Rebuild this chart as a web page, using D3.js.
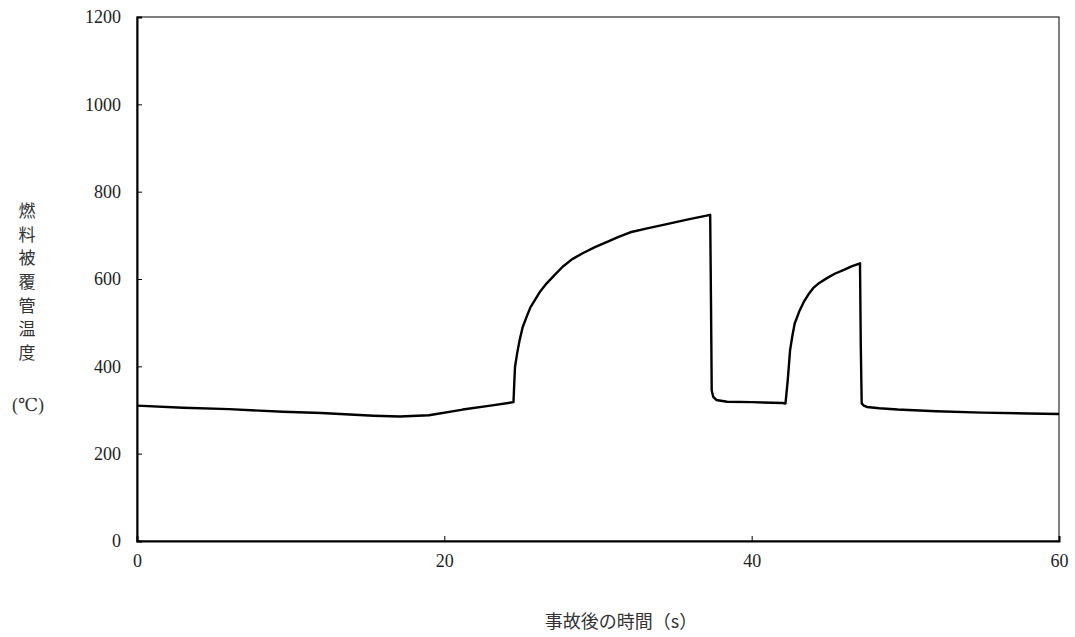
<!DOCTYPE html>
<html><head><meta charset="utf-8">
<script src="https://cdn.jsdelivr.net/npm/d3@7"></script>
<style>body{margin:0;background:#fff} .num{font-family:"Liberation Serif","DejaVu Serif",serif !important}</style>
</head><body>
<svg id="c" width="1075" height="637"></svg>
<script>
const time = [0,3,6,9.5,12,15.4,17.1,19,21.2,23,24.5,24.55,24.6,24.75,24.9,25.1,25.36,25.6,25.9,26.25,26.66,27.2,27.7,28.3,29.0,29.8,30.6,31.3,32.1,33.2,34.25,35.8,37.3,37.35,37.4,37.5,37.7,38.4,40,42.0,42.2,42.27,42.35,42.5,42.65,42.8,43.1,43.4,43.7,44.0,44.4,44.9,45.4,46.0,46.5,47.05,47.1,47.16,47.3,47.5,48.3,49.5,52,55,58,60];
const temp = [310,305,302,296,293,287,285,288,301,310,318,360,399,432,460,490,514,535,552,572,590,610,628,645,659,673,685,696,707,716,724,736,747,560,345,330,323,319,318,316,315,340,369,437,470,498,526,548,565,579,591,602,612,621,629,636,450,315,310,307,304,301,297,294,292,291];
const yTicks = [0,200,400,600,800,1000,1200];
const xTicks = [0,20,40,60];
const yTitle = ["燃","料","被","覆","管","温","度"];
const yUnit = "(℃)";
const xTitle = "事故後の時間（s）";

const svg = d3.select("#c");
const L=137,R=1059,T=17,B=541;
const x = d3.scaleLinear().domain([0,60]).range([L,R]);
const y = d3.scaleLinear().domain([0,1200]).range([B,T]);
const jpFont = "'Noto Sans CJK JP',sans-serif";

svg.append("rect").attr("x",L).attr("y",T).attr("width",R-L).attr("height",B-T)
  .attr("fill","none").attr("stroke","#000").attr("stroke-width",1);

const ya = svg.append("g").attr("transform",`translate(${L},0)`)
  .call(d3.axisLeft(y).tickValues(yTicks).tickSize(-5).tickPadding(16).tickFormat(d3.format("d")));
ya.attr("font-family",null);
ya.select(".domain").attr("stroke","#000").attr("stroke-width",2);
ya.selectAll("text").attr("class","num").style("font-size","18px").attr("fill","#222");

const xa = svg.append("g").attr("transform",`translate(0,${B})`)
  .call(d3.axisBottom(x).tickValues(xTicks).tickSize(-5).tickPadding(13).tickFormat(d3.format("d")));
xa.attr("font-family",null);
xa.select(".domain").attr("stroke","#000").attr("stroke-width",2);
xa.selectAll("text").attr("class","num").style("font-size","18px").attr("fill","#222");

const pts = time.map((t,i)=>[t,temp[i]]);
svg.append("path").datum(pts)
  .attr("d",d3.line().x(d=>x(d[0])).y(d=>y(d[1])))
  .attr("fill","none").attr("stroke","#000").attr("stroke-width",2.4).attr("stroke-linejoin","round");

svg.append("g").selectAll("text").data(yTitle).join("text")
  .attr("x",27).attr("y",(d,i)=>211+i*23.7).attr("dy","0.35em")
  .attr("text-anchor","middle").style("font-family",jpFont).style("font-size","17px").attr("fill","#333")
  .text(d=>d);
svg.append("text").attr("class","num").attr("x",28).attr("y",405).attr("dy","0.35em")
  .attr("text-anchor","middle").style("font-size","18px").attr("fill","#333").text(yUnit);

svg.append("text").attr("x",621).attr("y",622).attr("dy","0.35em")
  .attr("text-anchor","middle").style("font-family",jpFont).style("font-size","18px").attr("fill","#333").text(xTitle);
</script>
</body></html>
